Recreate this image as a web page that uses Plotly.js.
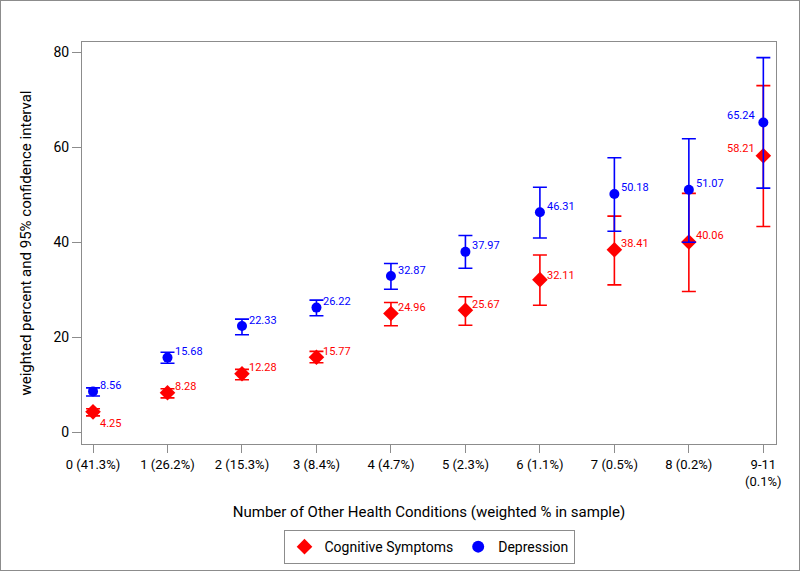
<!DOCTYPE html>
<html><head><meta charset="utf-8">
<script src="https://cdn.plot.ly/plotly-3.0.1.min.js"></script>
<style>body{margin:0;background:#fff}#wrap{position:relative;width:800px;height:571px}#chart{width:800px;height:571px}#frame{position:absolute;left:0;top:0;width:800px;height:571px;box-sizing:border-box;border:1px solid #8c8c8c;pointer-events:none}</style>
</head><body><div id="wrap"><div id="chart"></div><div id="frame"></div></div>
<script>
const categories = ["0 (41.3%)","1 (26.2%)","2 (15.3%)","3 (8.4%)","4 (4.7%)","5 (2.3%)","6 (1.1%)","7 (0.5%)","8 (0.2%)","9-11<br>(0.1%)"];
const xIdx = [0,1,2,3,4,5,6,7,8,9];
const cogValues = [4.25, 8.28, 12.28, 15.77, 24.96, 25.67, 32.11, 38.41, 40.06, 58.21];
const cogLower  = [3.4, 7.2, 11.0, 14.6, 22.4, 22.5, 26.7, 31.0, 29.6, 43.3];
const cogUpper  = [4.9, 9.1, 13.2, 17.0, 27.3, 28.5, 37.3, 45.5, 50.3, 73.0];
const depValues = [8.56, 15.68, 22.33, 26.22, 32.87, 37.97, 46.31, 50.18, 51.07, 65.24];
const depLower  = [7.6, 14.5, 20.5, 24.5, 30.1, 34.5, 40.9, 42.3, 40.0, 51.4];
const depUpper  = [9.3, 16.8, 23.8, 27.8, 35.5, 41.4, 51.6, 57.8, 61.8, 78.9];

const FONT = "Roboto, Open Sans, sans-serif";
const RED = "#ff0000", BLUE = "#0000ff";

function errs(v, lo, hi){
  return {type:'data', symmetric:false,
    array: v.map((d,i)=>hi[i]-d), arrayminus: v.map((d,i)=>d-lo[i])};
}

const cog = {
  x: xIdx, y: cogValues, type:'scatter', mode:'markers', name:'Cognitive Symptoms',
  marker:{symbol:'diamond', size:12, color:RED},
  error_y: Object.assign(errs(cogValues,cogLower,cogUpper),{color:RED, thickness:1.6, width:7})
};
const dep = {
  x: xIdx, y: depValues, type:'scatter', mode:'markers', name:'Depression',
  marker:{symbol:'circle', size:10, color:BLUE},
  error_y: Object.assign(errs(depValues,depLower,depUpper),{color:BLUE, thickness:1.6, width:7})
};

const annotations = [];
depValues.forEach((v,i)=>{
  const last = i===xIdx.length-1;
  annotations.push({x:xIdx[i], y:v, text:v.toFixed(2), showarrow:false,
    xanchor: last?'right':'left', yanchor:'middle', xshift: last?-6:5, yshift: last?7:6,
    font:{family:FONT, size:11, color:BLUE}});
});
cogValues.forEach((v,i)=>{
  const last = i===xIdx.length-1;
  let ys = 6;
  if(i===0) ys = -12;
  if(i===6) ys = 4;
  annotations.push({x:xIdx[i], y:v, text:v.toFixed(2), showarrow:false,
    xanchor: last?'right':'left', yanchor:'middle', xshift: last?-6:5, yshift: last?7:ys,
    font:{family:FONT, size:11, color:RED}});
});

const layout = {
  width:800, height:571,
  margin:{l:82, r:24, t:42, b:127, autoexpand:false},
  paper_bgcolor:'#fff', plot_bgcolor:'#fff',
  font:{family:FONT, size:13, color:'#000'},
  showlegend:true,
  legend:{orientation:'h', x:0.5, xanchor:'center', y:-0.214, yanchor:'top',
    bordercolor:'#8c8c8c', borderwidth:1, bgcolor:'#fff',
    font:{family:FONT, size:14, color:'#000'}, itemsizing:'constant', itemwidth:30},
  xaxis:{
    automargin:false,
    range:[-0.148, 9.17], tickmode:'array', tickvals:xIdx, ticktext:categories,
    showgrid:false, zeroline:false, showline:true, mirror:true, linecolor:'#8c8c8c', linewidth:1,
    ticks:'outside', ticklen:8, tickcolor:'#8c8c8c',
    tickfont:{family:FONT, size:13, color:'#000'},
    title:{text:'Number of Other Health Conditions (weighted % in sample)', standoff:18,
      font:{family:FONT, size:15, color:'#000'}}
  },
  yaxis:{
    automargin:false,
    range:[-2.53, 82.2], tickvals:[0,20,40,60,80],
    showgrid:false, zeroline:false, showline:true, mirror:true, linecolor:'#8c8c8c', linewidth:1,
    ticks:'outside', ticklen:9, tickcolor:'#8c8c8c',
    tickfont:{family:FONT, size:14, color:'#000'},
    title:{text:'weighted percent and 95% confidence interval', standoff:18,
      font:{family:FONT, size:15, color:'#000'}}
  },
  annotations: annotations
};

Plotly.newPlot('chart', [cog, dep], layout, {displayModeBar:false, staticPlot:true});
</script>
</body></html>
